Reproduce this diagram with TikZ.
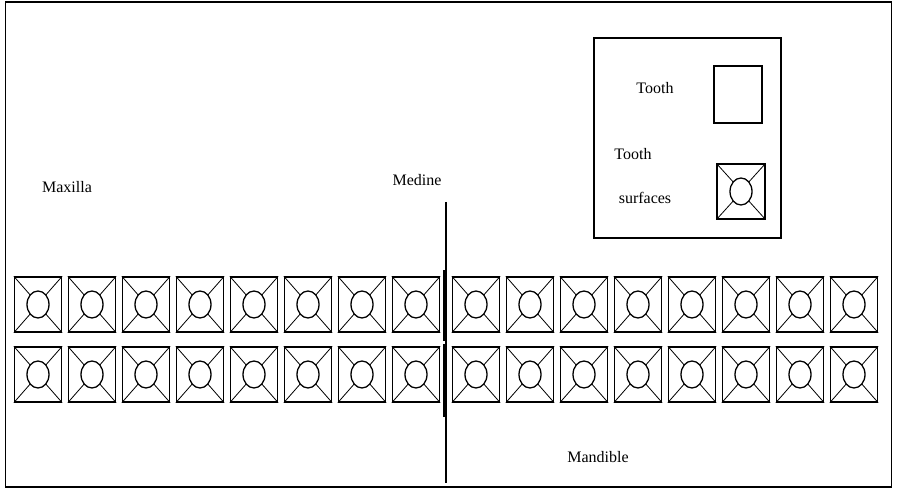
\documentclass[tikz,border=0pt]{standalone}
\usepackage{fontspec}
\setmainfont{Liberation Serif}

% surface pattern drawn inside a tooth node
\newcommand{\toothface}[1]{%
  \draw[line width=1.3pt] (#1.center) ellipse (11pt and 13.5pt);
  \draw[line width=0.8pt] (#1.north west) -- ([shift={(-7.8pt,9.5pt)}]#1.center);
  \draw[line width=0.8pt] (#1.north east) -- ([shift={(7.8pt,9.5pt)}]#1.center);
  \draw[line width=0.8pt] (#1.south west) -- ([shift={(-7.8pt,-9.5pt)}]#1.center);
  \draw[line width=0.8pt] (#1.south east) -- ([shift={(7.8pt,-9.5pt)}]#1.center);
}

\begin{document}
\begin{tikzpicture}[x=1pt, y=1pt,
    tooth/.style={draw, line width=1.3pt, rectangle, inner sep=0pt,
      minimum width=47pt, minimum height=55pt},
    lbl/.style={font=\fontsize{16}{19}\selectfont, inner sep=0pt}]
        \useasboundingbox (0,0) rectangle (901,494);

        % Outer frame
        \draw[line width=1.8pt] (5.5,7) rectangle (891.5,492);

        % Jaw labels
        \node[lbl] (maxilla) at (67,307) {Maxilla};
        \node[lbl] (medine) at (417,314) {Medine};
        \node[lbl] (mandible) at (598,37) {Mandible};

        % Two rows of teeth, eight on each side of the midline
        \foreach \i in {1,...,8} {
          \node[tooth] (uL\i) at ({38+54*(\i-1)},189.5) {};
          \toothface{uL\i}
          \node[tooth] (lL\i) at ({38+54*(\i-1)},119.5) {};
          \toothface{lL\i}
          \node[tooth] (uR\i) at ({476+54*(\i-1)},189.5) {};
          \toothface{uR\i}
          \node[tooth] (lR\i) at ({476+54*(\i-1)},119.5) {};
          \toothface{lR\i}
        }

        % Midline
        \coordinate (mid_top) at (446,292);
        \coordinate (mid_bot) at (446,11);
        \coordinate (bar_top) at (444.8,224);
        \coordinate (bar_gap_a) at (444.8,153);
        \coordinate (bar_gap_b) at (444.8,150);
        \coordinate (bar_bot) at (444.8,77);
        \draw[line width=1.3pt] (mid_top) -- (mid_bot);
        \draw[line width=3pt] (bar_top) -- (bar_gap_a);
        \draw[line width=3pt] (bar_gap_b) -- (bar_bot);

        % Legend
        \node[draw, line width=1.5pt, rectangle, inner sep=0pt,
          minimum width=187pt, minimum height=200pt] (legend) at (687.5,356) {};
        \node[lbl] (tooth_txt) at (655,406) {Tooth};
        \node[draw, line width=1.4pt, rectangle, inner sep=0pt,
          minimum width=48pt, minimum height=57pt] (tooth_key) at (738,399.5) {};
        \node[lbl] (surf_txt_a) at (633,340) {Tooth};
        \node[lbl] (surf_txt_b) at (645,296) {surfaces};
        \node[tooth, minimum width=48pt] (surf_key) at (741,302.5) {};
        \toothface{surf_key}
      \end{tikzpicture}
\end{document}
